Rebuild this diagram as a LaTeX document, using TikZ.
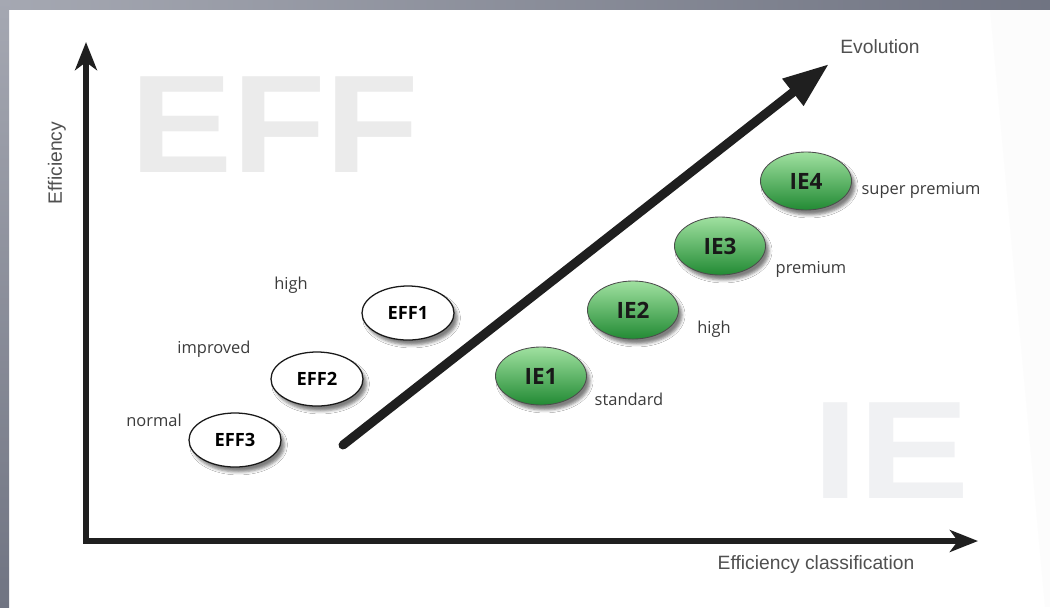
\documentclass[tikz,border=0pt]{standalone}
\usepackage{fontspec}
\setmainfont{Liberation Sans}
\newfontfamily\labelfont{Open Sans}
\usetikzlibrary{arrows.meta,shapes.geometric,shadows.blur}

\definecolor{bandlight}{RGB}{165,168,178}
\definecolor{banddark}{RGB}{112,116,130}
\definecolor{effgray}{RGB}{235,235,235}
\definecolor{iegray}{RGB}{240,241,243}
\definecolor{axisgray}{RGB}{80,80,80}
\definecolor{textgray}{RGB}{60,60,60}
\definecolor{ielight}{RGB}{160,225,160}
\definecolor{iemid}{RGB}{66,190,80}
\definecolor{iedark}{RGB}{34,138,52}

\tikzset{
  axis/.style={line width=3.8pt, line join=miter, draw=black!88,
    {Stealth[length=20pt,width=15.6pt,inset=5.7pt]}-{Stealth[length=20pt,width=15.6pt,inset=5.7pt]}},
  evoarrow/.style={line width=6.4pt, line cap=round, draw=black!88,
    -{Triangle[length=32.7pt,width=22.8pt]}},
  axislabel/.style={font=\fontsize{13.7}{16}\selectfont, text=axisgray},
  classlabel/.style={font=\labelfont\fontsize{11.7}{14}\selectfont, text=textgray},
  bigletters/.style={font=\bfseries\fontsize{99}{99}\selectfont, inner sep=0pt},
  effnode/.style={ellipse, draw=black!90, line width=0.9pt, fill=white,
    minimum width=2.3cm, minimum height=1.35cm, inner sep=0pt,
    font=\labelfont\bfseries\fontsize{13}{15}\selectfont,
    blur shadow={shadow xshift=2.5pt, shadow yshift=-3.5pt, shadow opacity=50}},
  ienode/.style={ellipse, draw=black!70, line width=0.6pt,
    top color=ielight, middle color=iemid, bottom color=iedark,
    minimum width=2.275cm, minimum height=1.45cm, inner sep=0pt,
    font=\labelfont\bfseries\fontsize{16}{18}\selectfont, text=black!90,
    blur shadow={shadow xshift=2.5pt, shadow yshift=-3.5pt, shadow opacity=50}},
}

\begin{document}
\begin{tikzpicture}[x=0.025cm,y=-0.025cm]
  \useasboundingbox (0,0) rectangle (1050,607);
  % background panel
  \fill[white] (0,0) rectangle (1050,607);
  \fill[black!1] (990,9) -- (1050,9) -- (1050,607) -- (1045,607) -- cycle;
  \shade[left color=bandlight, right color=banddark] (0,0) rectangle (1050,9);
  \shade[top color=bandlight, bottom color=banddark] (0,0) rectangle (9,607);

  % watermark letters
  \node[bigletters, text=effgray, anchor=base west] (effmark) at (130,172) {\scalebox{1.1}[1]{EFF}};
  \node[bigletters, text=iegray, anchor=base west] (iemark) at (812,498) {\scalebox{1.2}[1]{IE}};

  % axes
  \coordinate (origin) at (86,541);
  \coordinate (ytip) at (86,42);
  \coordinate (xtip) at (978,541);
  \draw[axis] (ytip) -- (origin) -- (xtip);
  \node[axislabel, rotate=90] (ylabel) at (57,163) {Efficiency};
  \node[axislabel] (xlabel) at (816,565) {Efficiency classification};
  \node[axislabel] (evolabel) at (880,47) {Evolution};

  % evolution arrow
  \coordinate (evostart) at (343,445);
  \coordinate (evoend) at (829,64);
  \draw[evoarrow] (evostart) -- (evoend);

  % EFF classes
  \node[effnode] (eff3) at (235,440) {EFF3};
  \node[effnode] (eff2) at (317,379) {EFF2};
  \node[effnode] (eff1) at (408,313) {EFF1};
  \node[classlabel] (normal) at (154,420) {normal};
  \node[classlabel] (improved) at (214,349) {improved};
  \node[classlabel] (effhigh) at (291,285) {high};

  % IE classes
  \node[ienode] (ie1) at (541,376) {IE1};
  \node[ienode] (ie2) at (633,310) {IE2};
  \node[ienode] (ie3) at (720,246) {IE3};
  \node[ienode] (ie4) at (806,181) {IE4};
  \node[classlabel] (standard) at (629,399) {standard};
  \node[classlabel] (iehigh) at (714,329) {high};
  \node[classlabel] (premium) at (811,269) {premium};
  \node[classlabel] (superpremium) at (921,190) {super premium};
\end{tikzpicture}
\end{document}
